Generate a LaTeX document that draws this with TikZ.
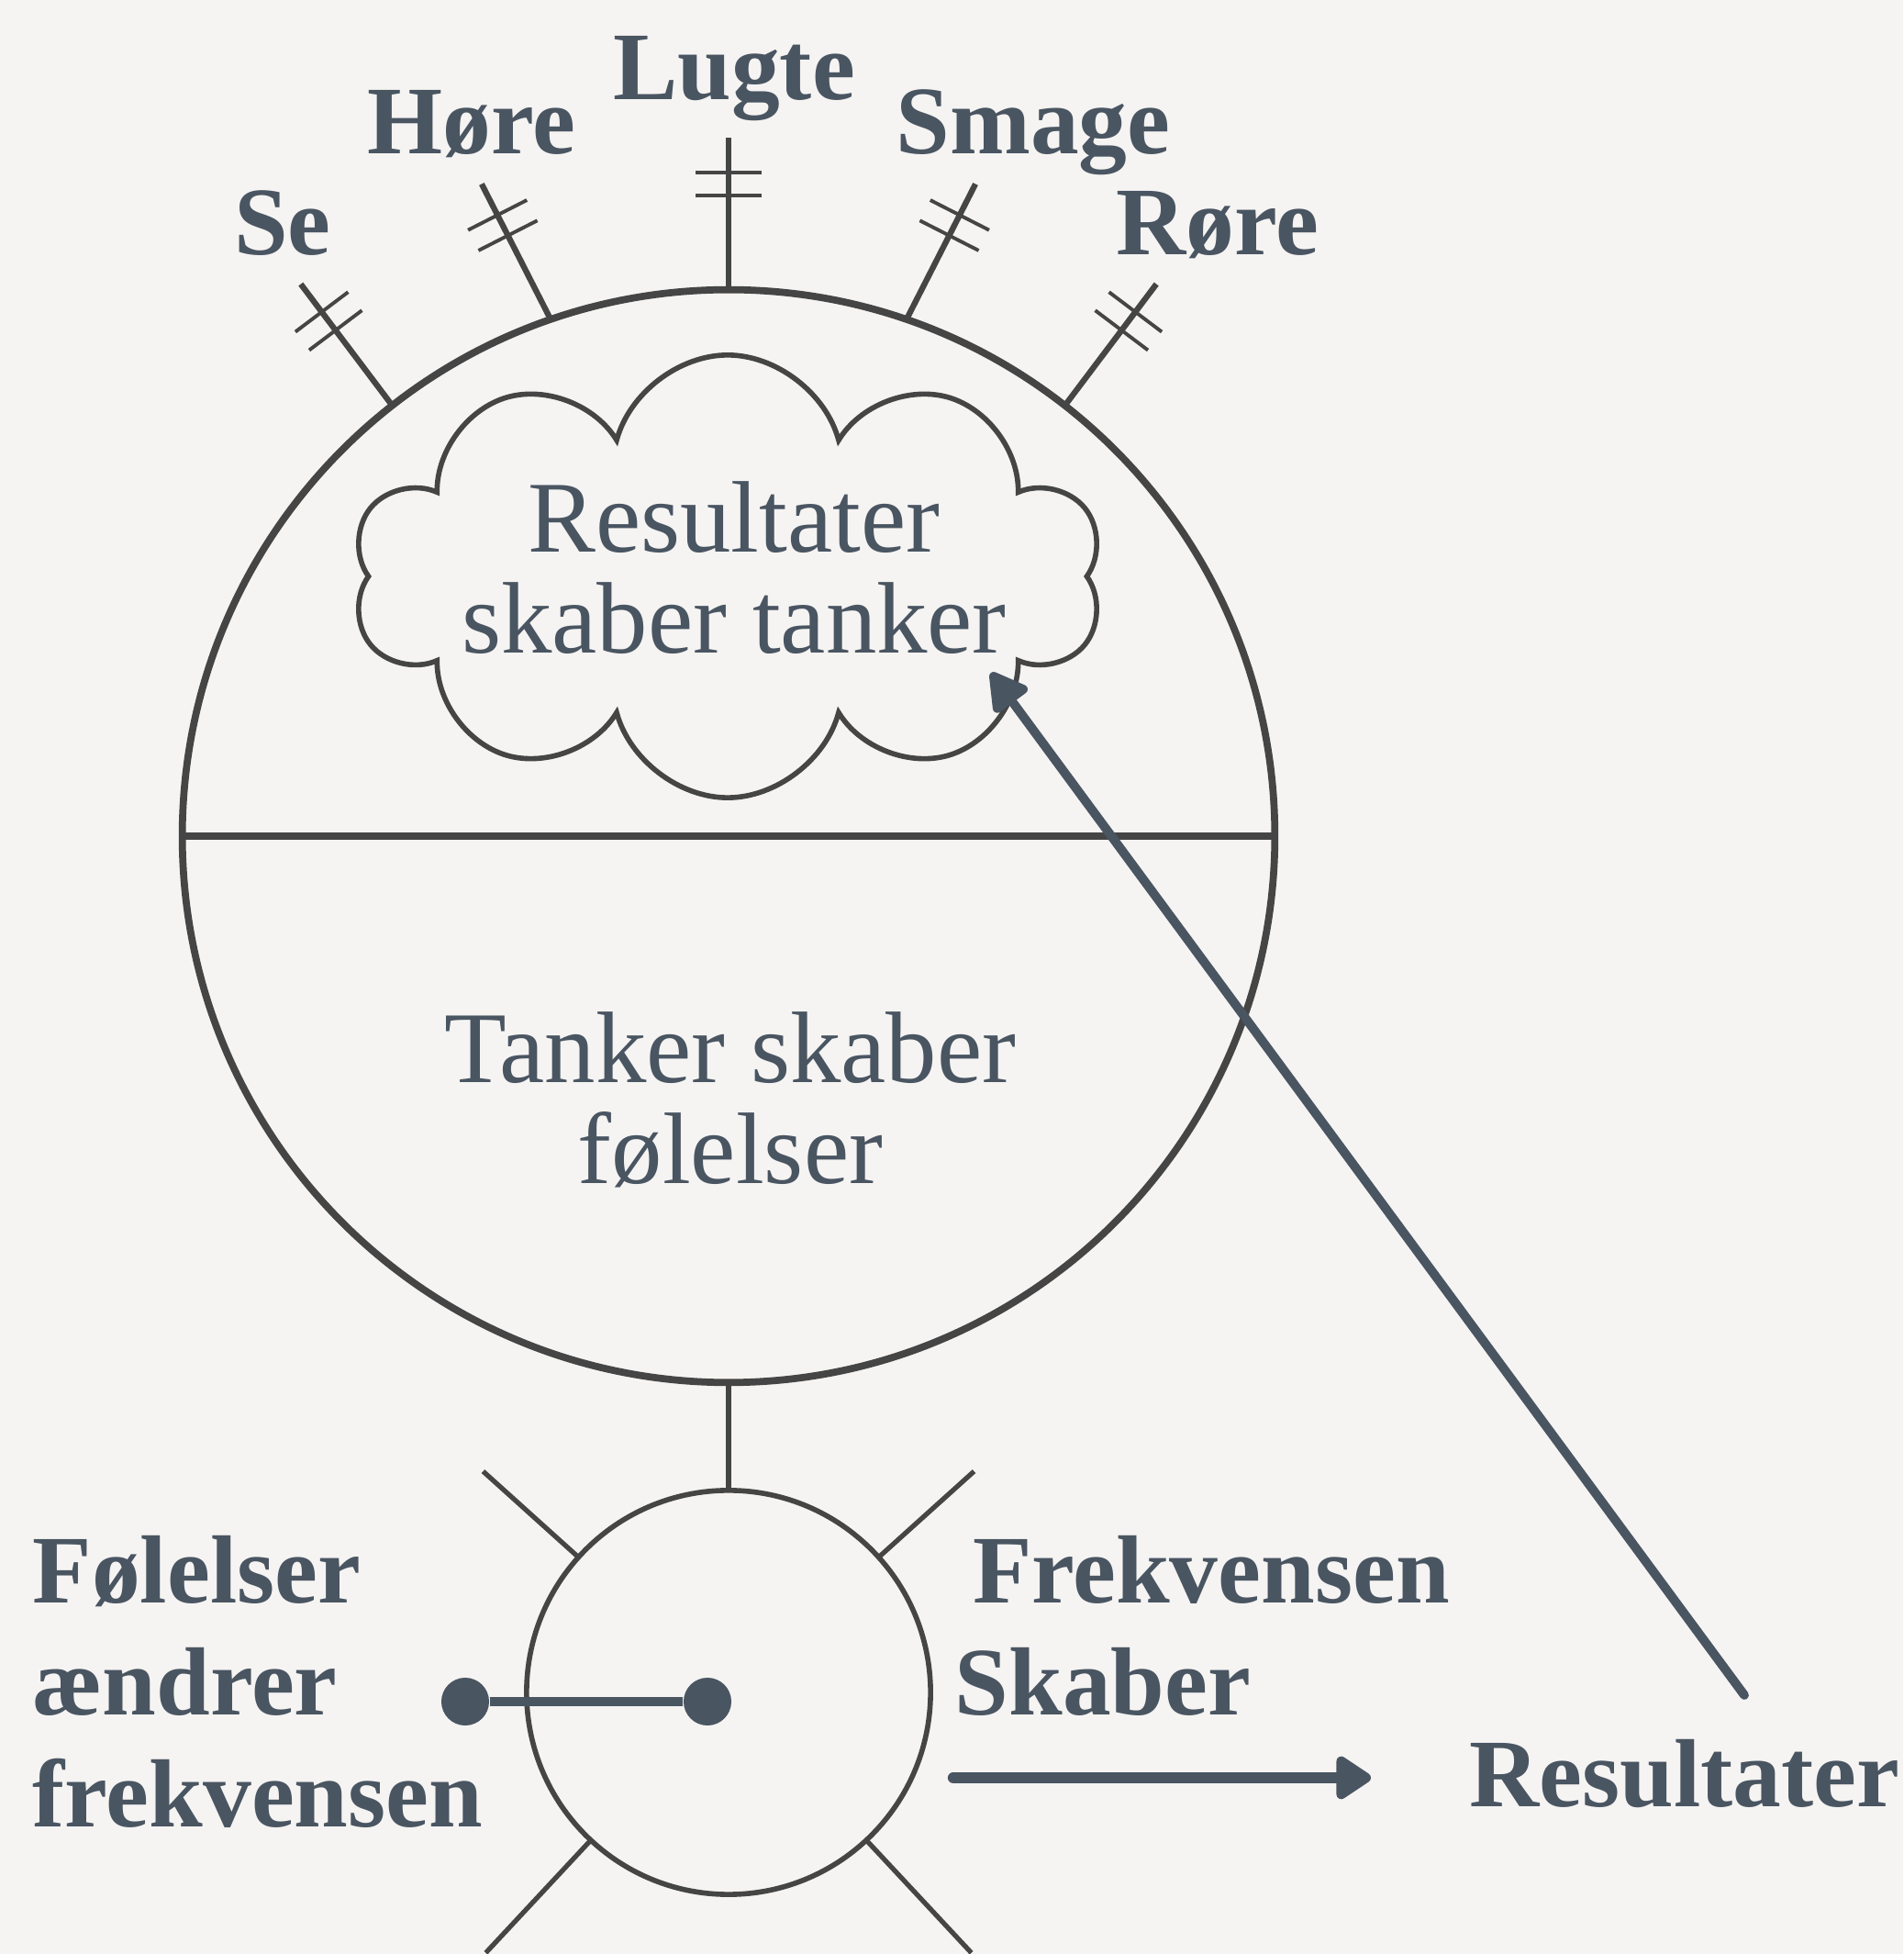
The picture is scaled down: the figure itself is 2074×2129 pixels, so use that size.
\documentclass[tikz,border=0pt]{standalone}
\usepackage{fontspec}
\setmainfont{Liberation Serif}
\usetikzlibrary{shapes.symbols,arrows.meta,calc}
\definecolor{slate}{HTML}{4A5562}
\definecolor{ink}{HTML}{454545}
\definecolor{paper}{HTML}{F5F4F2}
\tikzstyle{sense} = [font=\bfseries\fontsize{30}{34.7}\selectfont, text=slate, inner sep=0pt]
\tikzstyle{thought} = [font=\fontsize{31.5}{31.5}\selectfont, text=slate, inner sep=0pt, align=center]
\tikzstyle{ring} = [circle, draw=ink, line width=2.2pt, inner sep=0pt, outer sep=0pt]
\tikzstyle{antenna} = [draw=ink, line width=1.8pt]
\tikzstyle{notch} = [draw=ink, line width=1.1pt]
\tikzstyle{spoke} = [draw=ink, line width=1.5pt]
\tikzstyle{dot} = [circle, fill=slate, minimum size=0.52cm, inner sep=0pt]
\tikzstyle{flow} = [draw=slate, line cap=round]

\begin{document}
\begin{tikzpicture}[x=0.01cm, y=0.01cm]
                \useasboundingbox[fill=paper] (0,0) rectangle (2074,2129);
                % the mind and its five senses
                \node [ring, minimum size=11.9cm] (mind) at (794,1218) {};
                \draw [ink, line width=2pt] (mind.west) -- (mind.east);
                \foreach \b/\d in {128/127, 109/117, 90/90, 71/63, 52/53}{
                    \draw [antenna] ($(mind.center)+(\b:595)$) -- ++(\d:166) coordinate (tip\b);
                    \foreach \s in {38,63}
                        \draw [notch] ($(tip\b)+(\d+180:\s)+(\d+90:36)$) -- ++(\d-90:72);
                }
                \node [sense, anchor=base] (se) at (308,1851) {Se};
                \node [sense, anchor=base] (hore) at (514,1961) {Høre};
                \node [sense, anchor=base] (lugte) at (800,2020) {Lugte};
                \node [sense, anchor=base] (smage) at (1126,1961) {Smage};
                \node [sense, anchor=base] (rore) at (1327,1851) {Røre};
                % thoughts and feelings
                \node [cloud, draw=ink, line width=1.6pt, cloud puffs=10, cloud puff arc=150, aspect=1.7,
                    minimum width=8.18cm, minimum height=4.82cm, inner sep=0pt] (cloud) at (793,1501) {};
                \node [thought, anchor=base] (cloudtext) at (800,1417) {Resultater\\skaber tanker};
                \node [thought, anchor=base] (feeltext) at (796,839) {Tanker skaber\\følelser};
                % the frequency
                \node [ring, line width=1.6pt, minimum size=4.4cm] (core) at (794,285) {};
                \draw [ink, line width=1.6pt] (mind.south) -- (core.north);
                \foreach \a/\r in {42/360, 138/360, -47/388, -133/388}
                    \draw [spoke] ($(core.center)+(\a:220)$) -- ($(core.center)+(\a:\r)$);
                \node [dot] (dotL) at (507,275) {};
                \node [dot] (dotR) at (771,275) {};
                \draw [slate, line width=2.6pt] (dotL) -- (dotR);
                \node [sense, anchor=base west, align=left] (feelchange) at (35,138) {Følelser\\ændrer\\frekvensen};
                \node [sense, anchor=base west, align=left] (freqmake) at (1040,260) {\hspace*{5.5pt}Frekvensen\\Skaber};
                \node [sense, anchor=base west] (result) at (1601,160) {Resultater};
                % arrows
                \coordinate (makestart) at (1039,192);
                \coordinate (makeend) at (1494,192);
                \draw [flow, line width=3.5pt, -{Triangle[length=12pt, width=15pt, round]}] (makestart) -- (makeend);
                \coordinate (backstart) at (1901,282);
                \coordinate (backend) at (1080,1396);
                \draw [flow, line width=2.8pt, -{Triangle[length=13pt, width=14pt, round]}] (backstart) -- (backend);
\end{tikzpicture}
\end{document}
